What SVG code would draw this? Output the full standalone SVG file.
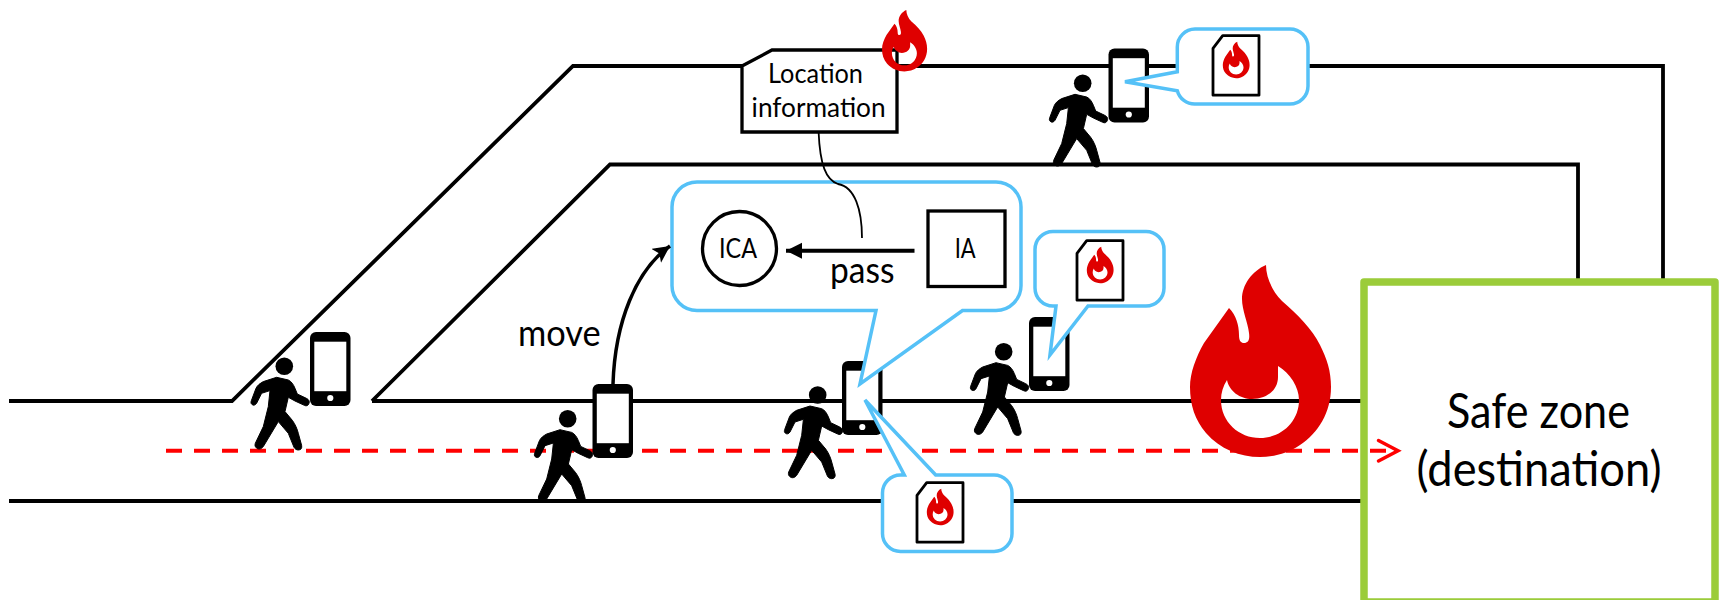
<svg xmlns="http://www.w3.org/2000/svg" width="1721" height="600" viewBox="0 0 1721 600">
<style>
.wall{fill:none;stroke:#000;stroke-width:3.8}
.bubble{fill:#fff;stroke:#55c1f7;stroke-width:3.5;stroke-linejoin:miter}
.doc{fill:#fff;stroke:#000;stroke-width:2.8;stroke-linejoin:round}
.flame{fill:#df0000;fill-rule:evenodd}
.shape{fill:#fff;stroke:#000;stroke-width:3.3}
text{font-family:"Lato","Liberation Sans",sans-serif;fill:#000}
.t27{font-size:27px}
.t36{font-size:37px}
.t48{font-size:49px}
</style>
<defs>
<path id="flame" class="flame" d="M76,0C76,12 82,26 92,36C108,50 122,64 130,80C137,94 141,106 141,122C141,148 128,168 110,180C98,188 84,192 70,192C50,192 30,184 16,168C5,155 0,140 0,122C0,108 6,92 14,78L39,43C46,50 49,60 49,70C49,76 51,78 54,78C58,78 60,75 59,68C58,58 52,45 52,34C52,20 62,6 76,0ZM88,101C100,108 109,122 109,135C109,157 91,173 70,173C49,173 31,157 31,135C31,128 33,121 37,115C39,126 50,134 62,134C77,134 88,125 88,112C88,108 88,104 88,101Z"/>
<g id="person">
<circle cx="0" cy="0" r="8.8" fill="#000"/>
<path fill="#000" stroke="#000" stroke-width="1" stroke-linejoin="round" d="M-7.7,11L4,13.7C7,15 9,18 10.7,22L13,27.7L22,32C25,33.5 25.5,35.5 24.5,37.5C23.5,39.5 22,40 20,39L10.7,34.7L4,31L0.7,45.3L8,54C11,58 13,63 14,67L17.3,79C18,82 16.5,83.7 14,83.7C12,83.7 10.5,82.5 9.7,81L4,67L-6,55.3L-21,80.3C-23,83 -26,83.5 -28,81.5C-29.5,80 -29.5,79 -29,77L-21,60.3L-16,40.3L-14.3,24.3L-22.7,27L-27.7,37C-29,39 -31,39.5 -32.5,38C-33.5,37 -33.5,36 -33,34.5L-28.3,22C-27,19 -24,17 -21,15.3Z"/>
</g>
<g id="phone">
<rect x="0" y="0" width="40.5" height="74" rx="6" fill="#000"/>
<rect x="4.3" y="9.7" width="32" height="49.5" fill="#fff"/>
<circle cx="20.3" cy="66" r="3.1" fill="#fff"/>
</g>
<g id="doc">
<path class="doc" d="M9.7,0H46V59.5H0V12.6Z"/>
<use href="#flame" transform="translate(9.8,6) scale(.19)"/>
</g>
<marker id="solid" markerUnits="userSpaceOnUse" markerWidth="17" markerHeight="17" refX="16" refY="8" orient="auto"><path d="M0,0L16,8L0,16Z" fill="#000"/></marker>
<marker id="barb" markerUnits="userSpaceOnUse" markerWidth="19" markerHeight="19" refX="17" refY="8.500" orient="auto"><path d="M0,0L17,8.500L0,17L4,8.500Z" fill="#000"/></marker>
</defs>

<g id="walls">
<path class="wall" d="M9,401H232L573,66H1663V282"/>
<path class="wall" d="M372,401L610,164.500H1578V282"/>
<path class="wall" d="M372,401H1367"/>
<path class="wall" d="M9,501H1367"/>
</g>

<g id="safe-zone">
<rect x="1364" y="282" width="351" height="320" fill="#fff" stroke="#9bcc3a" stroke-width="7.500" stroke-linejoin="round"/>
<text class="t48" x="1447" y="428" textLength="183" lengthAdjust="spacingAndGlyphs">Safe zone</text>
<text class="t48" x="1416.500" y="486" textLength="245" lengthAdjust="spacingAndGlyphs">(destination)</text>
</g>

<g id="route-connector">
<path d="M166,450.700H1396" fill="none" stroke="#f00" stroke-width="4" stroke-dasharray="16 12"/>
<path d="M1378.500,440.500L1398,450.700L1378.500,461" fill="none" stroke="#f00" stroke-width="3.500" stroke-linecap="round" stroke-linejoin="miter"/>
</g>

<g id="fire-large"><use href="#flame" transform="translate(1190,265)"/></g>

<g id="walker-1"><use href="#person" x="284.300" y="366.300"/><use href="#phone" x="310" y="332"/></g>
<g id="walker-2"><use href="#person" x="567.700" y="418.700"/><use href="#phone" x="592.500" y="384"/></g>
<g id="walker-3"><use href="#person" x="817.700" y="395"/><use href="#phone" x="842" y="361"/></g>
<g id="walker-4"><use href="#person" x="1003.700" y="351.700"/><use href="#phone" x="1029" y="317"/></g>
<g id="walker-5"><use href="#person" x="1082.700" y="83.300"/><use href="#phone" x="1108.500" y="48.500"/></g>

<g id="location-info">
<path class="shape" d="M742,66L772,50H897V132H742Z"/>
<text class="t27" x="768" y="83" textLength="95" lengthAdjust="spacingAndGlyphs">Location</text>
<text class="t27" x="751.600" y="116.500" textLength="134" lengthAdjust="spacingAndGlyphs">information</text>
</g>
<g id="fire-small"><use href="#flame" transform="translate(882,10) scale(.32)"/></g>

<g id="bubble-main">
<path class="bubble" d="M697,182H996A25,25 0 0 1 1021,207V285A25,25 0 0 1 996,310.500H962.500L860,384L876,310.500H697A25,25 0 0 1 672,285V207A25,25 0 0 1 697,182Z"/>
</g>
<g id="ica">
<circle class="shape" cx="739.500" cy="248.500" r="37"/>
<text class="t27" x="719" y="258" textLength="38" lengthAdjust="spacingAndGlyphs">ICA</text>
</g>
<g id="ia">
<rect class="shape" x="928" y="211" width="77" height="75.500"/>
<text class="t27" x="954.700" y="257.700" textLength="21" lengthAdjust="spacingAndGlyphs">IA</text>
</g>

<g id="bubble-top">
<path class="bubble" d="M1195,29H1290A18,18 0 0 1 1308,47V86A18,18 0 0 1 1290,104H1195A18,18 0 0 1 1177.300,90.700L1125,81.700L1177.300,71.700V47A18,18 0 0 1 1195,29Z"/>
<use href="#doc" x="1213" y="35.700"/>
</g>
<g id="bubble-mid">
<path class="bubble" d="M1053,231.500H1146A18,18 0 0 1 1164,249.500V288A18,18 0 0 1 1146,306H1088L1050,355L1056,306H1053A18,18 0 0 1 1035,288V249.500A18,18 0 0 1 1053,231.500Z"/>
<use href="#doc" x="1077" y="240.700"/>
</g>
<g id="bubble-bottom">
<path class="bubble" d="M900.500,475H904.300L865,400L935.700,475H994A18,18 0 0 1 1012,493V533A18,18 0 0 1 994,551.500H900.500A18,18 0 0 1 882.500,533V493A18,18 0 0 1 900.500,475Z"/>
<use href="#doc" x="917" y="482.700"/>
</g>

<g id="connectors">
<path d="M613,384C615,322 636,270 670,246" fill="none" stroke="#000" stroke-width="3.500" marker-end="url(#barb)"/>
<path d="M914.500,250.700H786" fill="none" stroke="#000" stroke-width="4" marker-end="url(#solid)"/>
<path d="M818.600,132C820,165 826,180 838,184C855,187 862,210 862,238" fill="none" stroke="#000" stroke-width="1.800"/>
</g>

<g id="labels">
<text class="t36" x="830" y="282.700" textLength="64.500" lengthAdjust="spacingAndGlyphs">pass</text>
<text class="t36" x="518" y="345.700" textLength="82.700" lengthAdjust="spacingAndGlyphs">move</text>
</g>
</svg>
